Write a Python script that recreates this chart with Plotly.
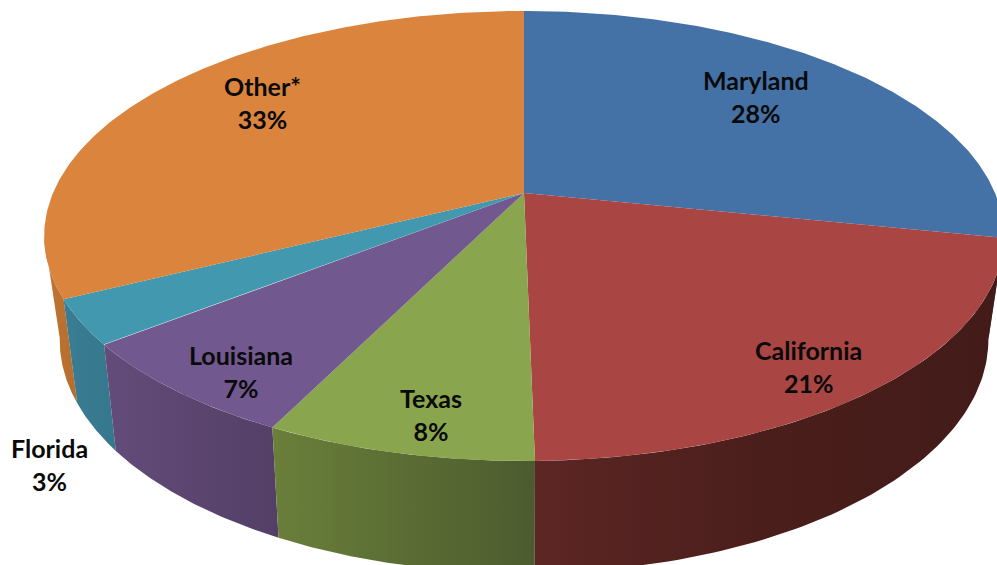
import numpy as np
import plotly.graph_objects as go

# Data
states = ["Maryland", "California", "Texas", "Louisiana", "Florida", "Other*"]
slice_shares = [28.2, 21.5, 7.6, 7.1, 3.2, 32.4]   # slice sizes as measured in the drawing
printed_pct = [28, 21, 8, 7, 3, 33]                # percentages printed on the chart

# Styling
top_colors = ["#4471A6", "#A94543", "#89A54E", "#71588F", "#4198AF", "#DB843D"]
wall_colors = [
    ["#2f5078", "#2f5078"],
    ["#5c2624", "#4a1e1b", "#421b19"],
    ["#6a7f3a", "#4c5b2e"],
    ["#644c7a", "#533f66"],
    ["#3a7d94", "#35778c"],
    ["#c07632", "#b56c2e"],
]
label_xy = [(756, 96), (808, 366), (431, 414), (241, 371), (49, 464), (262, 102)]

W, H = 997, 565
CX = 524
TOP = dict(cy=193.0, a=471.0, b=216.8, k=-0.191)
BOT = dict(cy=293.0, a=455.0, b=224.0, k=-0.200)
FRONT = (100.0, 259.0)   # silhouette angles: the wall is only seen between these


def project(theta_deg, disc):
    t = np.radians(theta_deg)
    u, v = np.sin(t), -np.cos(t)
    d = 1 + disc["k"] * v
    return CX + disc["a"] * u / d, disc["cy"] + disc["b"] * v / d


fracs = np.array(slice_shares) / sum(slice_shares) * 360
edges = np.concatenate([[0], np.cumsum(fracs)])

fig = go.Figure()

# Walls: back to front, so the large "Other*" goes first
for i in [5, 0, 4, 3, 2, 1]:
    t0, t1 = max(edges[i], FRONT[0]), min(edges[i + 1], FRONT[1])
    if t1 <= t0:
        continue
    th = np.linspace(t0, t1, 80)
    xt, yt = project(th, TOP)
    xb, yb = project(th[::-1], BOT)
    cols = wall_colors[i]
    stops = [[j / (len(cols) - 1), c] for j, c in enumerate(cols)]
    fig.add_trace(go.Scatter(
        x=np.concatenate([xt, xb]), y=np.concatenate([yt, yb]),
        mode="lines", line=dict(width=0), fill="toself",
        fillgradient=dict(type="horizontal", colorscale=stops),
        hoverinfo="skip", showlegend=False,
    ))

# Top faces
for i, name in enumerate(states):
    th = np.linspace(edges[i], edges[i + 1], 200)
    x, y = project(th, TOP)
    fig.add_trace(go.Scatter(
        x=np.concatenate([[CX], x, [CX]]), y=np.concatenate([[TOP["cy"]], y, [TOP["cy"]]]),
        mode="lines", line=dict(width=0), fill="toself", fillcolor=top_colors[i],
        name=name, hoverinfo="name", showlegend=False,
    ))

for name, pct, (lx, ly) in zip(states, printed_pct, label_xy):
    fig.add_annotation(
        x=lx, y=ly, xref="x", yref="y", showarrow=False,
        text=f"<b>{name}<br>{pct}%</b>",
        font=dict(family="Lato", size=25, color="#0a0a0a"), align="center",
    )

fig.update_layout(
    width=W, height=H, margin=dict(l=0, r=0, t=0, b=0),
    paper_bgcolor="white", plot_bgcolor="white", showlegend=False,
    xaxis=dict(range=[0, W], visible=False, fixedrange=True),
    yaxis=dict(range=[H, 0], visible=False, fixedrange=True),
)
fig.write_html("out.html", config={"displayModeBar": False},
               post_script="document.body.style.margin='0';document.body.style.overflow='hidden';")
